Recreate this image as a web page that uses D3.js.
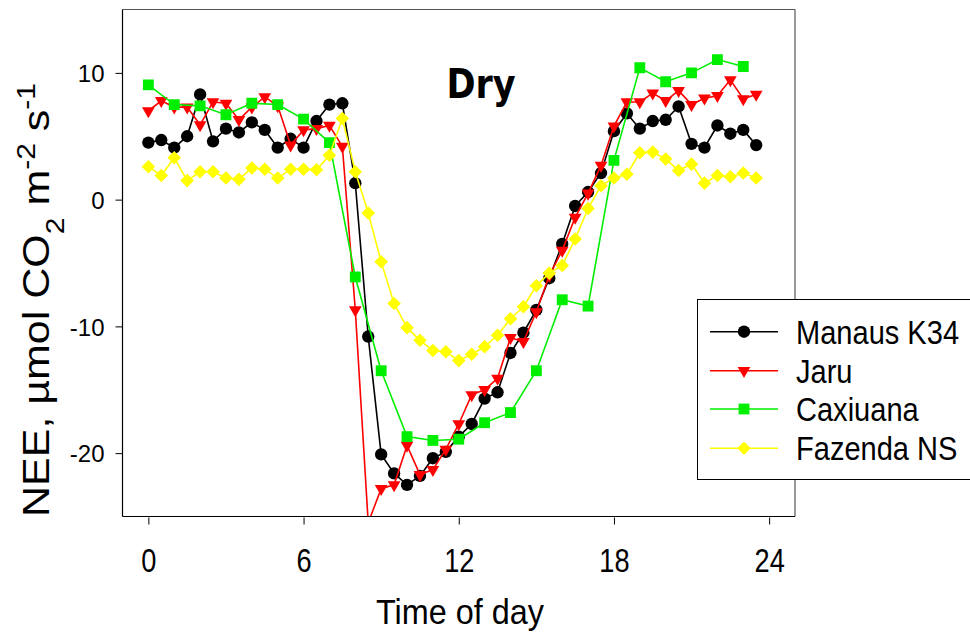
<!DOCTYPE html>
<html>

<head>
    <meta charset="utf-8">
    <title>NEE - Dry season</title>
    <script src="https://d3js.org/d3.v7.min.js"></script>
    <style>
        body {
            margin: 0;
            background: #fff;
        }

        text {
            font-family: Arial, "Liberation Sans", sans-serif;
            fill: #000;
        }
    </style>
</head>

<body>
    <div id="chart"></div>
    <script>
        // half-hourly time stamps (Caxiuana is hourly)
        const halfHours = [0, 0.5, 1, 1.5, 2, 2.5, 3, 3.5, 4, 4.5, 5, 5.5, 6, 6.5, 7, 7.5,
            8, 8.5, 9, 9.5, 10, 10.5, 11, 11.5, 12, 12.5, 13, 13.5, 14, 14.5, 15, 15.5,
            16, 16.5, 17, 17.5, 18, 18.5, 19, 19.5, 20, 20.5, 21, 21.5, 22, 22.5, 23, 23.5];
        const hours = [0, 1, 2, 3, 4, 5, 6, 7, 8, 9, 10, 11, 12, 13, 14, 15, 16, 17, 18, 19, 20, 21, 22, 23];

        const manaus = [4.5, 4.7, 4.1, 5.0, 8.3, 4.6, 5.6, 5.3,
            6.1, 5.5, 4.1, 4.8, 4.1, 6.2, 7.5, 7.6,
            1.3, -10.8, -20.1, -21.6, -22.5, -21.8, -20.4, -19.9,
            -18.7, -17.7, -15.7, -15.2, -12.1, -10.5, -8.7, -6.2,
            -3.5, -0.5, 0.6, 2.1, 5.4, 6.8, 5.6, 6.2,
            6.3, 7.35, 4.4, 4.1, 5.85, 5.2, 5.5, 4.3];
        const jaru = [7.0, 7.8, 7.3, 7.3, 5.9, 7.7, 7.6, 6.3,
            7.3, 8.1, 7.4, 4.3, 5.5, 5.6, 5.85, 4.2,
            -8.7, -25.5, -22.8, -22.5, -19.4, -21.7, -21.3, -19.7,
            -17.7, -15.4, -15.0, -14.1, -10.9, -11.2, -8.85, -6.0,
            -4.0, -1.4, 0.5, 2.7, 5.8, 7.7, 7.7, 8.4,
            7.8, 8.6, 7.5, 8.0, 8.2, 9.45, 7.95, 8.3];
        const caxiuana = [9.05, 7.5, 7.4, 6.7, 7.6, 7.5, 6.35, 4.5,
            -6.1, -13.5, -18.7, -19.0, -18.9, -17.6, -16.8, -13.5,
            -7.9, -8.4, 3.1, 10.4, 9.3, 10.0, 11.05, 10.5];
        const fazenda = [2.6, 1.9, 3.3, 1.5, 2.2, 2.2, 1.7, 1.6,
            2.5, 2.4, 1.7, 2.4, 2.4, 2.35, 3.5, 6.4,
            2.2, -1.05, -4.9, -8.2, -10.1, -11.1, -11.9, -12.0,
            -12.7, -12.2, -11.6, -10.7, -9.4, -8.45, -6.8, -5.8,
            -5.2, -3.1, -0.7, 1.1, 1.7, 2.0, 3.7, 3.75,
            3.2, 2.3, 2.8, 1.3, 1.9, 1.8, 2.1, 1.7];

        const seriesNames = ["Manaus K34", "Jaru", "Caxiuana", "Fazenda NS"];
        const seriesColors = ["#000000", "#ff0000", "#00ee00", "#ffff00"];
        const xTicks = [0, 6, 12, 18, 24];
        const yTicks = [-20, -10, 0, 10];

        const series = [
            { name: seriesNames[0], color: seriesColors[0], t: halfHours, v: manaus, shape: "circle" },
            { name: seriesNames[1], color: seriesColors[1], t: halfHours, v: jaru, shape: "triangle" },
            { name: seriesNames[2], color: seriesColors[2], t: hours, v: caxiuana, shape: "square" },
            { name: seriesNames[3], color: seriesColors[3], t: halfHours, v: fazenda, shape: "diamond" }
        ];

        const width = 970, height = 634;
        const plotLeft = 122.5, plotRight = 795, plotTop = 9.5, plotBottom = 516.5;

        const svg = d3.select("#chart").append("svg")
            .attr("width", width)
            .attr("height", height);

        const x = d3.scaleLinear().domain([-1, 25]).range([plotLeft, plotRight]);
        const y = d3.scaleLinear().domain([-25, 15]).range([plotBottom, plotTop]);

        // marker shapes
        const symbolFor = {
            circle: { type: d3.symbolCircle, size: 120, rot: 0 },
            triangle: { type: d3.symbolTriangle, size: 70, rot: 180 },
            square: { type: d3.symbolSquare, size: 118, rot: 0 },
            diamond: { type: d3.symbolSquare, size: 92, rot: 45 }
        };

        svg.append("clipPath").attr("id", "plotClip")
            .append("rect")
            .attr("x", plotLeft).attr("y", plotTop)
            .attr("width", plotRight - plotLeft).attr("height", plotBottom - plotTop);

        const plot = svg.append("g").attr("clip-path", "url(#plotClip)");

        const line = d3.line()
            .x(d => x(d[0]))
            .y(d => y(d[1]));

        series.forEach(s => {
            const pts = s.t.map((t, i) => [t, s.v[i]]);
            const g = plot.append("g");
            g.append("path")
                .datum(pts)
                .attr("d", line)
                .attr("fill", "none")
                .attr("stroke", s.color)
                .attr("stroke-width", 1.6);
            const sym = symbolFor[s.shape];
            g.selectAll("path.marker")
                .data(pts)
                .join("path")
                .attr("class", "marker")
                .attr("d", d3.symbol().type(sym.type).size(sym.size))
                .attr("transform", d => `translate(${x(d[0])},${y(d[1])}) rotate(${sym.rot})`)
                .attr("fill", s.color);
        });

        // frame
        svg.append("line").attr("x1", plotLeft).attr("x2", plotRight).attr("y1", plotTop).attr("y2", plotTop)
            .attr("stroke", "#555").attr("stroke-width", 1);
        svg.append("line").attr("x1", plotRight).attr("x2", plotRight).attr("y1", plotTop).attr("y2", plotBottom)
            .attr("stroke", "#333").attr("stroke-width", 1);
        svg.append("line").attr("x1", plotLeft).attr("x2", plotLeft).attr("y1", plotTop).attr("y2", plotBottom)
            .attr("stroke", "#000").attr("stroke-width", 1.2);
        svg.append("line").attr("x1", plotLeft).attr("x2", plotRight).attr("y1", plotBottom).attr("y2", plotBottom)
            .attr("stroke", "#000").attr("stroke-width", 1.2);

        // y axis (plain hyphen for negatives, as in the original)
        const yAxis = svg.append("g")
            .attr("transform", `translate(${plotLeft},0)`)
            .call(d3.axisLeft(y).tickValues(yTicks).tickFormat(d => String(d))
                .tickSize(7).tickPadding(11).tickSizeOuter(0));
        yAxis.select(".domain").remove();
        yAxis.selectAll("text")
            .style("font-family", "Arial, 'Liberation Sans', sans-serif")
            .style("font-size", "24px")
            .attr("dy", "0.36em");

        // x axis
        const xAxis = svg.append("g")
            .attr("transform", `translate(0,${plotBottom + 1})`)
            .call(d3.axisBottom(x).tickValues(xTicks).tickFormat(d => String(d))
                .tickSize(7).tickSizeOuter(0));
        xAxis.select(".domain").remove();
        xAxis.selectAll("text")
            .style("font-family", "Arial, 'Liberation Sans', sans-serif")
            .style("font-size", "34px")
            .attr("y", 55)
            .attr("dy", null)
            .attr("transform", "scale(0.8,1)");

        // axis titles
        svg.append("text")
            .attr("transform", `translate(460,624) scale(0.9,1)`)
            .attr("text-anchor", "middle")
            .style("font-size", "36px")
            .text("Time of day");

        const yLab = svg.append("text")
            .attr("transform", `translate(49,300) rotate(-90) scale(1,0.86)`)
            .attr("text-anchor", "middle")
            .style("font-size", "43px");
        yLab.append("tspan").text("NEE,  \u00b5mol CO");
        yLab.append("tspan").attr("baseline-shift", "sub").style("font-size", "30px").text("2");
        yLab.append("tspan").text(" m");
        yLab.append("tspan").attr("baseline-shift", "super").style("font-size", "30px").text("-2");
        yLab.append("tspan").text(" s");
        yLab.append("tspan").attr("baseline-shift", "super").style("font-size", "30px").text("-1");

        // panel label
        svg.append("text")
            .attr("transform", "translate(481,98) scale(0.875,1)")
            .attr("text-anchor", "middle")
            .style("font-family", "'DejaVu Sans', Verdana, sans-serif")
            .style("font-weight", "bold")
            .style("font-size", "40px")
            .text("Dry");

        // legend
        const legendRows = [331.7, 370.7, 409, 448.3];
        const legend = svg.append("g");
        legend.append("rect")
            .attr("x", 697.5).attr("y", 299.5)
            .attr("width", 300).attr("height", 180)
            .attr("fill", "#fff")
            .attr("stroke", "#000")
            .attr("stroke-width", 1);
        series.forEach((s, i) => {
            const ly = legendRows[i];
            legend.append("line")
                .attr("x1", 710).attr("x2", 778)
                .attr("y1", ly).attr("y2", ly)
                .attr("stroke", s.color).attr("stroke-width", 1.6);
            const sym = symbolFor[s.shape];
            legend.append("path")
                .attr("d", d3.symbol().type(sym.type).size(sym.size)())
                .attr("transform", `translate(744,${ly}) rotate(${sym.rot})`)
                .attr("fill", s.color);
            legend.append("text")
                .attr("transform", `translate(796,${ly + 12}) scale(0.88,1)`)
                .style("font-size", "33px")
                .text(s.name);
        });
    </script>
</body>

</html>
